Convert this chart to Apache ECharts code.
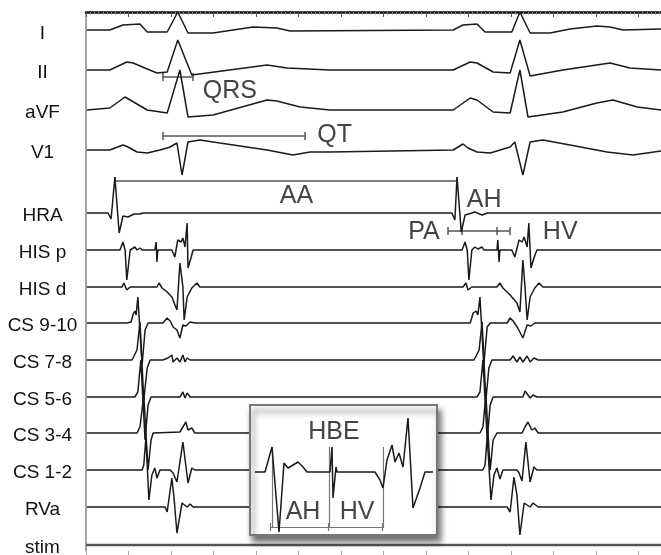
<!DOCTYPE html>
<html><head><meta charset="utf-8">
<script src="https://cdn.jsdelivr.net/npm/echarts/dist/echarts.min.js"></script>
<style>html,body{margin:0;padding:0;background:#fff}#c{width:661px;height:555px}</style>
</head><body><div id="c"></div>
<script>
// ---- channels (names and stacking offsets on the vertical axis) ----
const channelNames = ['I','II','aVF','V1','HRA','HIS p','HIS d','CS 9-10','CS 7-8','CS 5-6','CS 3-4','CS 1-2','RVa','stim'];
const channelOffsets = [31,70,110,150,213,250,287,323,360,397,433,470,507,545];

// ---- traces: [time ms, deflection (up positive)] ----
const leadI = [[2,1],[56,1],[87,6],[127,7],[144,-1],[191,-1],[216,19],[240,-2],[299,-2],[346,1],[393,4],[449,3],[480,0],
  [864,1],[887,6],[920,7],[939,-1],[1002,-1],[1021,19],[1045,-2],[1092,-2],[1139,2],[1202,5],[1233,4],[1264,1],[1353,2]];
const leadII = [[2,0],[56,0],[96,8],[111,7],[144,1],[167,-3],[191,-2],[216,30],[249,-5],[426,5],[473,2],[574,0],
  [864,0],[904,8],[920,7],[958,-2],[998,-3],[1021,30],[1045,-6],[1122,0],[1233,7],[1280,2],[1353,0]];
const leadAVF = [[2,0],[56,2],[92,13],[104,10],[144,0],[191,-3],[221,40],[240,-7],[299,-5],[426,10],[449,9],[504,3],[574,0],
  [864,0],[904,12],[920,10],[958,-2],[998,-3],[1021,40],[1040,-7],[1122,-2],[1202,7],[1240,10],[1297,3],[1353,0]];
const leadV1 = [[2,0],[56,0],[87,5],[99,3],[120,-2],[144,-3],[174,0],[198,3],[214,7],[226,-25],[240,8],[268,10],[315,7],[426,0],[487,-5],[527,-2],[574,-2],
  [864,0],[887,6],[899,2],[920,-2],[951,-3],[998,3],[1009,8],[1028,-25],[1045,8],[1075,10],[1139,5],[1226,-2],[1287,-5],[1353,-1]];
const hra = [[2,0],[52,0],[59,-6],[68,36],[78,-20],[87,-3],[99,-4],[113,-1],[127,-1],[134,0],
  [861,0],[868,-7],[873,36],[883,-19],[892,-2],[908,0],[915,1],[932,-2],[944,0],[1353,0]];
const hisP = [[2,0],[80,0],[87,8],[92,0],[96,-30],[104,0],[108,2],[115,3],[120,0],[127,2],[132,0],[162,0],[165,8],[167,-12],[169,0],
  [202,0],[209,-7],[216,10],[224,8],[228,12],[233,3],[238,27],[240,-18],[247,-8],[252,0],
  [885,0],[892,8],[897,0],[901,-30],[908,0],[912,2],[915,3],[922,1],[932,3],[936,0],[967,0],[969,10],[972,-12],[974,0],
  [1002,0],[1009,-7],[1019,10],[1026,8],[1031,13],[1038,3],[1042,27],[1047,-18],[1054,-8],[1061,0],[1353,0]];
const hisD = [[2,0],[85,0],[89,4],[96,-3],[104,0],[167,0],[172,4],[179,-1],[191,-5],[202,-10],[214,-23],[221,24],[228,0],[231,-33],[238,-10],[249,-1],[261,4],[268,0],
  [887,0],[894,4],[899,-3],[908,0],[967,0],[974,4],[981,-1],[998,-8],[1014,-16],[1021,-25],[1028,27],[1033,0],[1038,-33],[1045,-10],[1056,-1],[1066,4],[1075,0],[1353,0]];
const cs910 = [[2,0],[96,0],[106,1],[111,9],[115,12],[118,8],[122,26],[132,-42],[139,-7],[146,0],[181,0],[191,5],[198,2],[205,-4],[214,-7],[221,-15],[228,-2],[235,-3],[245,1],[256,0],
  [904,0],[911,10],[918,12],[922,8],[927,26],[936,-42],[944,-4],[951,0],[991,0],[998,5],[1005,2],[1016,-5],[1028,-15],[1038,-2],[1047,-3],[1056,0],[1353,0]];
const cs78 = [[2,0],[108,0],[113,4],[120,10],[127,38],[136,-40],[144,-8],[151,0],[181,0],[193,2],[202,5],[205,-2],[214,2],[221,-2],[228,5],[233,-2],[238,2],[245,0],[261,0],
  [913,0],[918,4],[925,10],[932,38],[941,-40],[948,-8],[955,0],[998,0],[1005,4],[1014,-2],[1021,3],[1028,-2],[1038,4],[1045,-2],[1054,2],[1064,0],[1353,0]];
const cs56 = [[2,0],[115,0],[122,5],[129,37],[139,-43],[146,-8],[153,0],[221,0],[228,5],[233,-1],[238,4],[245,0],
  [920,0],[927,5],[934,37],[944,-43],[951,-8],[958,0],[1028,0],[1033,6],[1045,-1],[1052,2],[1061,0],[1353,0]];
const cs34 = [[2,0],[120,0],[127,6],[136,38],[146,-37],[153,-7],[158,0],[221,1],[228,6],[235,11],[240,3],[249,5],[256,0],
  [927,0],[934,6],[941,38],[951,-37],[958,-7],[967,0],[1026,0],[1033,6],[1040,11],[1049,3],[1056,5],[1064,0],[1353,0]];
const cs12 = [[2,0],[132,0],[136,5],[141,33],[148,-30],[155,-5],[162,2],[167,-8],[174,0],[198,0],[205,-3],[214,-12],[228,28],[240,-13],[249,2],[256,0],
  [934,0],[939,5],[944,33],[953,-30],[960,-5],[967,2],[974,-9],[981,0],[1014,0],[1019,-3],[1026,-11],[1035,28],[1045,-12],[1054,3],[1061,0],[1353,0]];
const rva = [[2,0],[186,0],[191,-5],[202,29],[207,10],[214,-26],[226,4],[238,0],[245,3],[252,0],
  [991,0],[998,-5],[1007,30],[1014,12],[1021,-28],[1031,4],[1045,0],[1052,4],[1064,0],[1353,0]];
const stim = [[0,0],[1353,0]];

// ---- measured intervals: tick times (ms) and the level they are drawn at ----
const intervalTicks = [[181,252],[181,515],[68,873],[852,885,967,998]];
const intervalLevels = [77,136,181,231];
const intervalLabels = ['QRS','QT','AA','AH','PA','HV'];
const intervalLabelTimes = [275,544,456,896,758,1075];
const intervalLabelLevels = [91,135,196,200,232,232];

// ---- HBE inset ----
const hbeTrace = [[5,0],[15,0],[22,25],[29,-60],[34,9],[38,4],[40,5],[43,7],[48,10],[53,5],[57,0],[80,0],[82,25],[83,-26],[86,5],[87,0],
  [125,0],[130,-8],[133,-16],[137,12],[142,27],[145,10],[149,19],[153,5],[158,54],[163,-36],[170,-16],[175,0],[183,0]];
const hbeMarkers = [22,79,133];
const hbeIntervalTicks = [20,78,132];
const hbeLabels = ['HBE','AH','HV'];
const hbeLabelTimes = [84,53,107];
const hbeLabelLevels = [40,-40,-40];

const traces = [leadI,leadII,leadAVF,leadV1,hra,hisP,hisD,cs910,cs78,cs56,cs34,cs12,rva,stim];

const chart = echarts.init(document.getElementById('c'), null, {renderer:'canvas'});

const series = traces.map((pts,i)=>({
  type:'line', xAxisIndex:0, yAxisIndex:0, silent:true, symbol:'none', z:2,
  data: pts.map(p=>[p[0], channelOffsets[i]-p[1]]),
  lineStyle:{color: i===13 ? '#555' : '#1a1a1a', width: i===13 ? 2.5 : 1.5}
}));

// interval bars
const barSegs = [];
intervalTicks.forEach((ts,k)=>{
  const y = intervalLevels[k];
  barSegs.push({coords:[[ts[0],y],[ts[ts.length-1],y]]});
  ts.forEach(t=>barSegs.push({coords:[[t,y-4],[t,y+4]]}));
});
series.push({type:'lines', coordinateSystem:'cartesian2d', xAxisIndex:0, yAxisIndex:0, silent:true, z:2,
  lineStyle:{color:'#555', width:1.5, opacity:1}, data:barSegs});

// inset trace
series.push({type:'line', xAxisIndex:2, yAxisIndex:1, silent:true, symbol:'none', z:5,
  data: hbeTrace, lineStyle:{color:'#1a1a1a', width:1.5}});
const insetSegs = hbeMarkers.map(t=>({coords:[[t,-56],[t,25]]}));
insetSegs.push({coords:[[hbeIntervalTicks[0],-55],[hbeIntervalTicks[hbeIntervalTicks.length-1],-55]]});
hbeIntervalTicks.forEach(t=>insetSegs.push({coords:[[t,-59],[t,-51]]}));
series.push({type:'lines', coordinateSystem:'cartesian2d', xAxisIndex:2, yAxisIndex:1, silent:true, z:5,
  lineStyle:{color:'#777', width:1.2, opacity:1}, data:insetSegs});

chart.setOption({
  animation:false,
  backgroundColor:'#fff',
  grid:[
    {left:86, right:0, top:12, bottom:4},
    {left:250, top:405, width:187, height:130}
  ],
  xAxis:[
    {gridIndex:0, type:'value', position:'top', min:0, max:1353, interval:100,
     axisLine:{show:true, onZero:false, lineStyle:{color:'#111', width:2.5}},
     axisTick:{show:true, inside:true, length:5, lineStyle:{color:'#555', width:1}},
     minorTick:{show:true, splitNumber:10, length:2.5, lineStyle:{color:'#888', width:1}},
     axisLabel:{show:false}, splitLine:{show:false}},
    {gridIndex:0, type:'value', position:'bottom', min:0, max:1353, interval:100,
     axisLine:{show:false, onZero:false},
     axisTick:{show:true, inside:false, length:4, lineStyle:{color:'#aaa', width:1}},
     axisLabel:{show:false}, splitLine:{show:false}},
    {gridIndex:1, type:'value', min:0, max:187, show:false}
  ],
  yAxis:[
    {gridIndex:0, type:'value', inverse:true, min:12, max:551,
     axisLine:{show:true, onZero:false, lineStyle:{color:'#888', width:1.5}},
     axisTick:{show:false}, axisLabel:{show:false}, splitLine:{show:false}},
    {gridIndex:1, type:'value', min:-63, max:67, show:false}
  ],
  series
});

// labels and inset frame placed through the axes
const g = [];
channelNames.forEach((n,i)=>{
  const y = chart.convertToPixel({yAxisIndex:0}, channelOffsets[i]);
  g.push({type:'text', x:42.5, y:y+3, z:10, silent:true,
    style:{text:n, fill:'#111', font:'19px "Liberation Sans", Arial, sans-serif', align:'center', verticalAlign:'middle', textAlign:'center', textVerticalAlign:'middle'}});
});
intervalLabels.forEach((n,i)=>{
  const p = chart.convertToPixel({gridIndex:0}, [intervalLabelTimes[i], intervalLabelLevels[i]]);
  g.push({type:'text', x:p[0], y:p[1], z:10, silent:true,
    style:{text:n, fill:'#444', font:'25px "Liberation Sans", Arial, sans-serif', align:'left', verticalAlign:'middle', textAlign:'left', textVerticalAlign:'middle'}});
});
const c0 = chart.convertToPixel({gridIndex:1}, [0,67]);
const c1 = chart.convertToPixel({gridIndex:1}, [187,-63]);
g.push({type:'rect', z:3, silent:true,
  shape:{x:c0[0], y:c0[1], width:c1[0]-c0[0], height:c1[1]-c0[1]},
  style:{fill:'#fff', stroke:'#777', lineWidth:2, shadowBlur:6, shadowOffsetX:3, shadowOffsetY:6, shadowColor:'rgba(0,0,0,0.55)'}});
hbeLabels.forEach((n,i)=>{
  const p = chart.convertToPixel({gridIndex:1}, [hbeLabelTimes[i], hbeLabelLevels[i]]);
  g.push({type:'text', x:p[0], y:p[1], z:10, silent:true,
    style:{text:n, fill:'#444', font:'25px "Liberation Sans", Arial, sans-serif', align:'center', verticalAlign:'middle', textAlign:'center', textVerticalAlign:'middle'}});
});
chart.setOption({graphic:{elements:g}});
</script>
</body></html>
